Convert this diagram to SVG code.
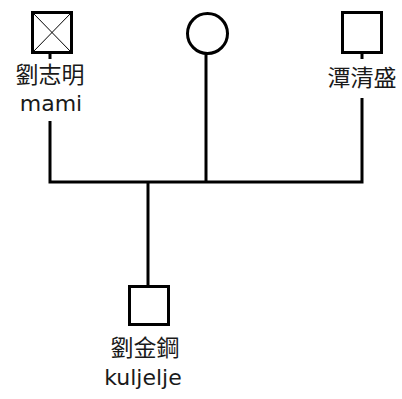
<svg xmlns="http://www.w3.org/2000/svg" width="402" height="399" viewBox="0 0 402 399">
<style>
.s{fill:none;stroke:#000;stroke-width:3}
.t{font-family:"DejaVu Sans",sans-serif;font-size:22px;text-anchor:middle;fill:#1a1a1a}
.c{font-family:"Noto Sans CJK TC","Noto Sans CJK SC",sans-serif;font-size:23px;text-anchor:middle;fill:#1a1a1a}
</style>
<rect width="402" height="399" fill="#fff"/>
<g id="connectors" class="s">
<polyline points="50,54 50,59"/>
<polyline points="50,121 50,182 362,182 362,98"/>
<polyline points="362,54 362,59"/>
<line x1="206" y1="53" x2="206" y2="182"/>
<line x1="148" y1="182" x2="148" y2="285"/>
</g>
<g id="p1">
<rect class="s" x="32.5" y="12.5" width="39" height="40"/>
<path d="M33,13 L71,52 M71,13 L33,52" stroke="#000" stroke-width="1"/>
<text class="c" x="50" y="83">劉志明</text>
<text class="t" x="51" y="111">mami</text>
</g>
<g id="p2">
<circle class="s" cx="207.5" cy="33.5" r="20"/>
</g>
<g id="p3">
<rect class="s" x="342.5" y="12.5" width="39" height="40"/>
<text class="c" x="362" y="86">潭清盛</text>
</g>
<g id="p4">
<rect class="s" x="129.5" y="286.5" width="39" height="38"/>
<text class="c" x="145" y="356">劉金鋼</text>
<text class="t" x="143" y="385">kuljelje</text>
</g>
</svg>
